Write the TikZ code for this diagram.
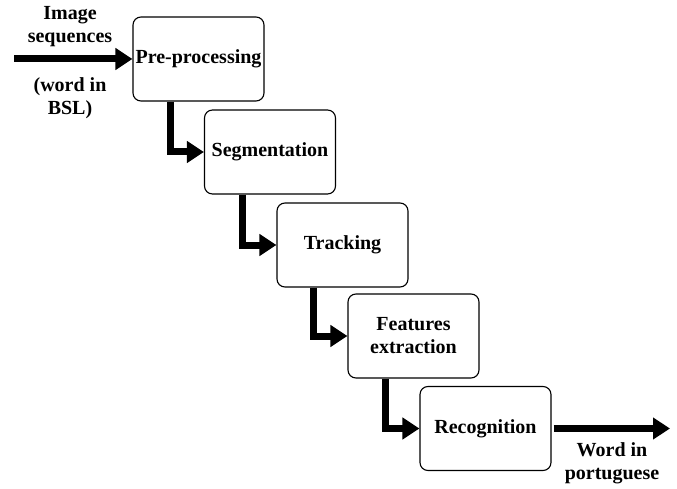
\documentclass[tikz,border=0pt]{standalone}
\usepackage{fontspec}
\setmainfont{Liberation Serif}
\usepackage{tikz}
\usetikzlibrary{arrows.meta}
\usetikzlibrary{positioning}

\tikzset{
    stage/.style={draw=black, line width=1.1pt, rounded corners=8pt, minimum width=131pt,
                  minimum height=84pt, inner sep=2pt, align=center, font=\fontsize{20}{23}\selectfont\bfseries},
    label/.style={align=center, font=\fontsize{20}{23}\selectfont\bfseries},
    flow/.style={line width=7pt, -{Triangle[length=17pt, width=21pt]}}
}

\begin{document}
\begin{tikzpicture}[x=1pt, y=-1pt]
            \useasboundingbox (0,0) rectangle (677,489);
            % stages
            \node[stage] (pre)  at (198.5, 59.0) {Pre-processing};
            \node[stage] (seg)  at (270.0,152.0) {Segmentation};
            \node[stage] (trk)  at (342.5,245.0) {Tracking};
            \node[stage] (feat) at (413.5,336.0) {Features\\extraction};
            \node[stage] (rec)  at (485.5,428.5) {Recognition};
            % input / output
            \coordinate (in)  at ( 14, 59);
            \coordinate (out) at (670,428.5);
            \node[label] (inlbl)  at ( 70, 27) {Image\\sequences};
            \node[label] (bsl)    at ( 70, 98) {(word in\\BSL)};
            \node[label] (outlbl) at (612,463) {Word in\\portuguese};
            % connectors
            \draw[flow] (in) -- (pre.west);
            \draw[flow] ([xshift=-28.5pt]pre.south) |- (seg.west);
            \draw[flow] ([xshift=-28pt]seg.south) |- (trk.west);
            \draw[flow] ([xshift=-29.5pt]trk.south) |- (feat.west);
            \draw[flow] ([xshift=-28.5pt]feat.south) |- (rec.west);
            \draw[flow, shorten <=2pt] (rec.east) -- (out);
        \end{tikzpicture}
\end{document}
